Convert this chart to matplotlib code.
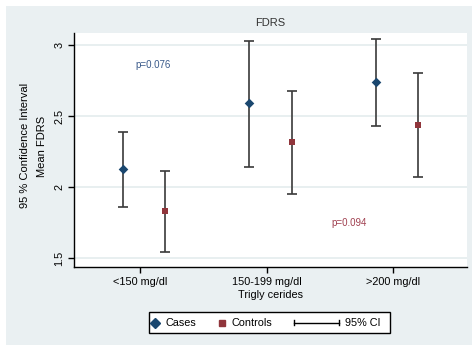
import matplotlib
matplotlib.use("Agg")
import matplotlib.pyplot as plt
from matplotlib.patches import Rectangle
from matplotlib.lines import Line2D
import numpy as np

plt.rcParams['font.family'] = ['Liberation Sans', 'DejaVu Sans']

categories = ["<150 mg/dl", "150-199 mg/dl", ">200 mg/dl"]
cases_mean = [2.13, 2.59, 2.74]
cases_low = [1.86, 2.14, 2.43]
cases_high = [2.39, 3.03, 3.04]
controls_mean = [1.83, 2.32, 2.44]
controls_low = [1.54, 1.95, 2.07]
controls_high = [2.11, 2.68, 2.80]
yticks = [1.5, 2, 2.5, 3]
ytick_labels = ["1.5", "2", "2.5", "3"]
legend_labels = ["Cases", "Controls", "95% CI"]

NAVY = "#1a476f"
MAROON = "#90353b"
BG = "#eaf0f2"
GRID = "#e4ecee"
BAR = "#3a3a3a"
FS = 7.8

W, H = 472, 345
fig = plt.figure(figsize=(W/100, H/100), dpi=100)
fig.patch.set_facecolor("white")
fig.patches.append(Rectangle((6/W, 0), 466/W, 339/H, transform=fig.transFigure,
                             facecolor=BG, edgecolor="none", zorder=-10))

ax = fig.add_axes([74/W, 1-267/H, (467-74)/W, (267-33)/H])
ax.set_facecolor("white")

x = np.arange(1, len(categories)+1)
xc = x - 0.135
xk = x + 0.2


def errs(m, lo, hi):
    m = np.array(m)
    return [m - np.array(lo), np.array(hi) - m]


ax.errorbar(xc, cases_mean, yerr=errs(cases_mean, cases_low, cases_high), fmt='none',
            ecolor=BAR, elinewidth=1.2, capsize=3.5, capthick=1.2, zorder=2)
ax.errorbar(xk, controls_mean, yerr=errs(controls_mean, controls_low, controls_high), fmt='none',
            ecolor=BAR, elinewidth=1.2, capsize=3.5, capthick=1.2, zorder=2)
ax.scatter(xc, cases_mean, marker='D', s=24, color=NAVY, zorder=3, linewidths=0)
ax.scatter(xk, controls_mean, marker='s', s=24, color=MAROON, zorder=3, linewidths=0)

ax.set_xlim(0.478, 3.585)
ax.set_ylim(1.437, 3.085)
ax.set_yticks(yticks)
ax.set_yticklabels(ytick_labels, rotation=90, va='center', fontsize=FS)
ax.set_xticks(x)
ax.set_xticklabels(categories, fontsize=FS)
ax.grid(axis='y', color=GRID, linewidth=1.2, zorder=0)
ax.set_axisbelow(True)
for s in ['top', 'right']:
    ax.spines[s].set_visible(False)
for s in ['left', 'bottom']:
    ax.spines[s].set_color('black')
    ax.spines[s].set_linewidth(1.0)
ax.tick_params(axis='both', length=4, width=1, color='black', labelsize=FS, pad=3)

ax.set_xlabel("Trigly cerides", fontsize=FS, labelpad=2)

fig.text(270/W, 1-23/H, "FDRS", ha='center', va='center', fontsize=8, color='#333333')
fig.text(25/W, 1-145/H, "95 % Confidence Interval", rotation=90, ha='center', va='center', fontsize=8)
fig.text(42/W, 1-146/H, "Mean FDRS", rotation=90, ha='center', va='center', fontsize=8)

ax.text(1.1, 2.86, "p=0.076", color="#3a5a8a", fontsize=7, ha='center', va='center')
ax.text(2.65, 1.75, "p=0.094", color="#a04050", fontsize=7, ha='center', va='center')


# manual legend (pixel coordinates from top-left)
def fx(px):
    return px / W


def fy(py):
    return 1 - py / H


fig.patches.append(Rectangle((fx(149), fy(333)), (390-149)/W, (333-312)/H, transform=fig.transFigure,
                             facecolor='white', edgecolor='black', linewidth=1.0, zorder=5))
ly = 322.5
fig.add_artist(Line2D([fx(155)], [fy(ly)], marker='D', color=NAVY, markersize=5,
                      linestyle='none', transform=fig.transFigure, zorder=6))
fig.text(fx(165), fy(ly), legend_labels[0], ha='left', va='center', fontsize=FS, zorder=6)
fig.add_artist(Line2D([fx(222)], [fy(ly)], marker='s', color=MAROON, markersize=4.8,
                      linestyle='none', transform=fig.transFigure, zorder=6))
fig.text(fx(231), fy(ly), legend_labels[1], ha='left', va='center', fontsize=FS, zorder=6)
fig.add_artist(Line2D([fx(294), fx(339)], [fy(ly), fy(ly)], color='black', lw=1.0,
                      transform=fig.transFigure, zorder=6))
for cx in (294, 339):
    fig.add_artist(Line2D([fx(cx), fx(cx)], [fy(ly-2.5), fy(ly+2.5)], color='black', lw=1.0,
                          transform=fig.transFigure, zorder=6))
fig.text(fx(345), fy(ly), legend_labels[2], ha='left', va='center', fontsize=FS, zorder=6)

fig.savefig("out.png", dpi=100, facecolor=fig.get_facecolor())
